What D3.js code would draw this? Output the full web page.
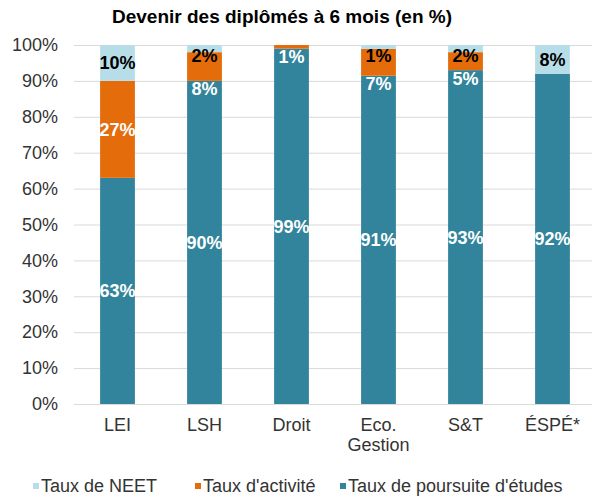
<!DOCTYPE html>
<html>
<head>
<meta charset="utf-8">
<script src="https://cdn.jsdelivr.net/npm/d3@7"></script>
<style>
  body { margin: 0; background: #fff; }
  svg { font-family: "Liberation Sans", Arial, sans-serif; }
</style>
</head>
<body>
<svg id="chart" width="592" height="497"></svg>
<script>
// categories and series (percentages)
const categories = ["LEI", "LSH", "Droit", "Eco. Gestion", "S&T", "ÉSPÉ*"];
const poursuite = [63, 90, 99, 91.45, 93, 92];
const activite = [27, 8, 1, 7.45, 5, 0];
const neet = [10, 2, 0, 1.1, 2, 8];
const yTicks = [0, 10, 20, 30, 40, 50, 60, 70, 80, 90, 100];

const seriesNames = ["Taux de poursuite d'études", "Taux d'activité", "Taux de NEET"];
const colors = ["#31849B", "#E46C0A", "#B7DEE8"];
const labelColors = ["#fff", "#fff", "#000"];

const margin = {top: 45, right: -4, bottom: 93, left: 74};
const width = 592, height = 497;

const rows = categories.map((c, i) => ({
  cat: c,
  [seriesNames[0]]: poursuite[i],
  [seriesNames[1]]: activite[i],
  [seriesNames[2]]: neet[i]
}));
const stack = d3.stack().keys(seriesNames)(rows);

const x = d3.scaleBand(categories, [margin.left, width - margin.right])
  .paddingInner(0.6).paddingOuter(0.3);
const y = d3.scaleLinear([0, 100], [height - margin.bottom, margin.top]);

const svg = d3.select("#chart");

// title
svg.append("text")
  .attr("x", 282).attr("y", 23)
  .attr("text-anchor", "middle")
  .attr("font-size", 19).attr("font-weight", "bold")
  .attr("fill", "#000")
  .text("Devenir des diplômés  à 6 mois (en %)");

// grid + y axis
const yAxis = svg.append("g")
  .attr("transform", `translate(${margin.left},0)`)
  .call(d3.axisLeft(y).tickValues(yTicks).tickFormat(d => d + "%")
    .tickSize(-(width - margin.right - margin.left)).tickPadding(16));
yAxis.select(".domain").remove();
yAxis.selectAll("line").attr("stroke", "#d9d9d9");
yAxis.selectAll("text").attr("font-size", 18).attr("fill", "#333")
  .attr("font-family", "Liberation Sans, Arial, sans-serif");

// bars
svg.append("g").selectAll("g")
  .data(stack)
  .join("g")
  .attr("fill", (d, i) => colors[i])
  .selectAll("rect")
  .data(d => d)
  .join("rect")
  .attr("x", d => x(d.data.cat))
  .attr("width", x.bandwidth())
  .attr("y", d => y(d[1]))
  .attr("height", d => y(d[0]) - y(d[1]));

// value labels
stack.forEach((s, si) => {
  svg.append("g").selectAll("text")
    .data(s.filter(d => d[1] - d[0] > 0))
    .join("text")
    .attr("x", d => x(d.data.cat) + x.bandwidth() / 2)
    .attr("y", d => {
      const mid = y((d[0] + d[1]) / 2);
      if (si === 1 && d[1] - d[0] < 10) return y(d[0]) + 8; // small activity label pushed below
      if (si === 2) return Math.max(mid, y(100) + 11);
      return mid;
    })
    .attr("dy", "0.36em")
    .attr("text-anchor", "middle")
    .attr("font-size", 18).attr("font-weight", "bold")
    .attr("fill", labelColors[si])
    .text(d => Math.round(d[1] - d[0]) + "%");
});

// x axis labels
const xl = svg.append("g").selectAll("text")
  .data(categories)
  .join("text")
  .attr("x", d => x(d) + x.bandwidth() / 2)
  .attr("y", 431)
  .attr("text-anchor", "middle")
  .attr("font-size", 18).attr("fill", "#333");
xl.each(function(d) {
  const parts = d === "Eco. Gestion" ? ["Eco.", "Gestion"] : [d];
  parts.forEach((p, i) => d3.select(this).append("tspan")
    .attr("x", x(d) + x.bandwidth() / 2).attr("dy", i ? 20 : 0).text(p));
});

// legend
const legendX = [33, 195, 340];
const legendOrder = [2, 1, 0];
const lg = svg.append("g").selectAll("g")
  .data(legendOrder)
  .join("g")
  .attr("transform", (d, i) => `translate(${legendX[i]},486)`);
lg.append("rect").attr("x", 0).attr("y", -3).attr("width", 6).attr("height", 6)
  .attr("fill", d => colors[d]);
lg.append("text").attr("x", 8).attr("dy", "0.36em")
  .attr("font-size", 18).attr("fill", "#333")
  .text(d => seriesNames[d]);
</script>
</body>
</html>
